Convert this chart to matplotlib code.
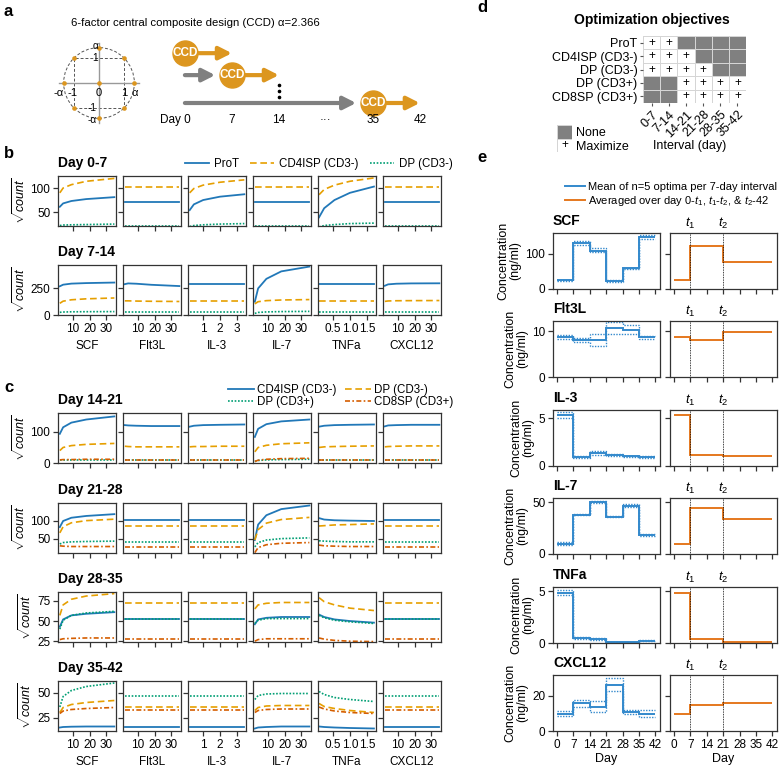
import numpy as np
import matplotlib
matplotlib.use('Agg')
import matplotlib.pyplot as plt
from matplotlib.colors import ListedColormap
from matplotlib.lines import Line2D
from matplotlib.patches import Circle, Rectangle
from matplotlib.transforms import blended_transform_factory

plt.rcParams['font.family'] = ['Liberation Sans', 'DejaVu Sans']
plt.rcParams['mathtext.fontset'] = 'custom'
plt.rcParams['mathtext.rm'] = 'Liberation Sans'
plt.rcParams['mathtext.it'] = 'Liberation Sans:italic'

FIG_W, FIG_H = 780, 770

# ---------------- panel a: design schematic ----------------
AXIAL = np.sqrt(2)   # drawn distance of the axial points
CCD_X = [-1, 1, -1, 1, 0, -AXIAL, AXIAL, 0, 0]
CCD_Y = [-1, -1, 1, 1, 0, 0, 0, -AXIAL, AXIAL]
CCD_SLOTS = [0, 1, 4]
DAY_LABELS = ['Day 0', '7', '14', '\u00b7\u00b7\u00b7', '35', '42']

# ---------------- panels b and c: response curves ----------------
FACTORS = ['SCF', 'Flt3L', 'IL-3', 'IL-7', 'TNFa', 'CXCL12']
FACTOR_X = {'SCF': [2, 4, 9, 18, 35], 'Flt3L': [2, 4, 9, 18, 35],
            'IL-3': [0.2, 0.45, 1.0, 2.0, 3.45], 'IL-7': [2, 4, 9, 18, 35],
            'TNFa': [0.1, 0.25, 0.55, 1.0, 1.7], 'CXCL12': [2, 4, 9, 18, 35]}
FACTOR_XLIM = {'SCF': (0.9, 36), 'Flt3L': (0.9, 36), 'IL-3': (0.1, 3.55),
               'IL-7': (0.9, 36), 'TNFa': (0.07, 1.76), 'CXCL12': (0.9, 36)}
FACTOR_XTICKS = {'SCF': [10, 20, 30], 'Flt3L': [10, 20, 30], 'IL-3': [1, 2, 3],
                 'IL-7': [10, 20, 30], 'TNFa': [0.5, 1.0, 1.5],
                 'CXCL12': [10, 20, 30]}

B_SERIES = ['ProT', 'CD4ISP (CD3-)', 'DP (CD3-)']
C_SERIES = ['CD4ISP (CD3-)', 'DP (CD3-)', 'DP (CD3+)', 'CD8SP (CD3+)']

# one entry per factor; a single number means a flat response
day_0_7 = {
    'ProT': [[61, 68, 73, 77, 81], 71, [54, 66, 75, 82, 87], 71,
             [39, 58, 75, 90, 103], 71],
    'CD4ISP (CD3-)': [[90, 100, 107, 114, 120], 103, [90, 99, 106, 112, 117], 103,
                      [86, 97, 106, 114, 121], 103],
    'DP (CD3-)': [[22, 23, 23.5, 24, 25], 22, [20, 22, 23.5, 25, 26], 22,
                  [19, 22, 24, 26, 27], 22],
}
day_7_14 = {
    'ProT': [[270, 285, 295, 300, 305], [290, 297, 294, 284, 272], 290,
             [125, 250, 340, 410, 455], 290, [275, 288, 294, 297, 298]],
    'CD4ISP (CD3-)': [[110, 130, 143, 152, 160], [133, 133, 131, 129, 127], 135,
                      [105, 125, 135, 141, 145], 135, [128, 132, 134, 135, 136]],
    'DP (CD3-)': [[25, 28, 30, 31, 32], 28, 28, [15, 24, 29, 32, 34], 28, 28],
}
day_14_21 = {
    'CD4ISP (CD3-)': [[94, 115, 130, 140, 150], [122, 121, 120, 119, 119],
                      [117, 120, 122, 123, 124], [84, 110, 125, 134, 140],
                      [117, 120, 122, 123, 124], [118, 121, 122, 123, 123]],
    'DP (CD3-)': [[40, 50, 56, 60, 63], [54, 53, 52, 52, 52], [52, 53, 53, 54, 54],
                  [36, 50, 57, 62, 65], [50, 52, 53, 54, 55], [52, 53, 54, 55, 55]],
    'DP (CD3+)': [9, 9, 9, [5, 8, 10, 11, 12], 9, 9],
    'CD8SP (CD3+)': [[10, 11, 11, 12, 12], 11, 11, [5, 9, 12, 14, 15], 11, 11],
}
day_21_28 = {
    'CD4ISP (CD3-)': [[83, 100, 109, 114, 119], 103, 103, [47, 90, 116, 133, 143],
                      [108, 104, 102, 101, 100], 103],
    'DP (CD3-)': [[67, 84, 95, 101, 105], 86, 86, [47, 76, 94, 104, 110],
                  [86, 87, 89, 90, 92], 86],
    'DP (CD3+)': [[36, 40, 42, 43, 44], 42, 42, [28, 40, 47, 51, 53],
                  [45, 44, 43, 42, 42], 42],
    'CD8SP (CD3+)': [[31, 30, 29, 29, 29], 29, 29, [12, 26, 34, 38, 40],
                     [33, 31, 30, 29, 29], 29],
}
day_28_35 = {
    'CD4ISP (CD3-)': [[43, 52, 57, 59, 61], 53, 53, [46, 52, 54, 55, 55],
                      [58, 55, 52, 50, 48], 53],
    'DP (CD3-)': [[57, 70, 77, 81, 84], 72, 72, [65, 70, 72, 73, 73],
                  [79, 74, 70, 66, 63], 72],
    'DP (CD3+)': [[40, 51, 57, 60, 62], 52.5, 52.5, [47, 51, 53, 53, 53],
                  [57, 54, 51, 49, 47], 52.5],
    'CD8SP (CD3+)': [[27, 28, 28.5, 29, 29], 28, 28, [25, 27, 28, 28, 28],
                     [29, 27.5, 26, 25, 24.5], 28],
}
day_35_42 = {
    'CD4ISP (CD3-)': [[15, 15.5, 15.8, 16, 16], 15.5, 15.5, [14, 15, 15.5, 16, 16],
                      [16, 15.5, 15, 14.5, 14], 15.5],
    'DP (CD3-)': [[30, 35, 38, 40, 42], 36, 36, [32, 35, 36.5, 37, 37],
                  [39, 36, 34, 32, 30], 36],
    'DP (CD3+)': [[35.5, 46, 52, 56, 59.5], 47, 47, [43, 47, 48.5, 49, 49],
                  [51, 48, 45, 43, 41], 47],
    'CD8SP (CD3+)': [[29, 31.5, 33, 34, 35], 32.5, 32.5, [30, 32, 33, 33.5, 33.5],
                     [35.5, 33.5, 31.5, 30, 29], 32.5],
}
ROW_TITLES = ['Day 0-7', 'Day 7-14', 'Day 14-21', 'Day 21-28', 'Day 28-35', 'Day 35-42']
ROW_DATA = [day_0_7, day_7_14, day_14_21, day_21_28, day_28_35, day_35_42]
ROW_YLIM = [(21, 125), (0, 470), (0, 161), (11, 150), (24, 86), (11.5, 61.5)]
ROW_YTICKS = [[50, 100], [0, 250], [0, 100], [50, 100], [25, 50, 75], [25, 50]]

# ---------------- panel d: objectives ----------------
OBJ_ROWS = ['ProT', 'CD4ISP (CD3-)', 'DP (CD3-)', 'DP (CD3+)', 'CD8SP (CD3+)']
OBJ_INTERVALS = ['0-7', '7-14', '14-21', '21-28', '28-35', '35-42']
OBJECTIVES = [[1, 1, 0, 0, 0, 0],
              [1, 1, 1, 0, 0, 0],
              [1, 1, 1, 1, 0, 0],
              [0, 0, 1, 1, 1, 1],
              [0, 0, 1, 1, 1, 1]]

# ---------------- panel e: optimal schedules ----------------
E_DAYS = [0, 7, 14, 21, 28, 35, 42]
E_AVG_EDGES = [0, 7, 21, 42]
e_mean = {'SCF': [24, 130, 108, 22, 58, 147],
          'Flt3L': [8.7, 8.0, 8.0, 10.6, 10.3, 8.7],
          'IL-3': [5.3, 0.95, 1.35, 1.1, 1.0, 0.9],
          'IL-7': [10, 38, 50, 36, 46, 18],
          'TNFa': [4.85, 0.45, 0.4, 0.08, 0.1, 0.2],
          'CXCL12': [10, 16, 14, 26.5, 11, 9.8]}
e_low = {'SCF': [22, 125, 103, 20, 56, 142],
         'Flt3L': [8.3, 7.6, 6.8, 9.3, 9.3, 8.3],
         'IL-3': [5.0, 0.88, 1.2, 1.0, 0.95, 0.8],
         'IL-7': [8.5, 37.5, 49, 35.5, 45, 17],
         'TNFa': [4.6, 0.38, 0.3, 0.05, 0.07, 0.15],
         'CXCL12': [8.5, 13.5, 11, 23, 10, 7.8]}
e_high = {'SCF': [26, 135, 117, 24, 60, 153],
          'Flt3L': [9.2, 8.5, 9.3, 12.0, 11.3, 9.0],
          'IL-3': [5.6, 1.02, 1.6, 1.3, 1.05, 1.05],
          'IL-7': [11.5, 39, 51.5, 37, 48, 19],
          'TNFa': [5.1, 0.55, 0.5, 0.1, 0.13, 0.25],
          'CXCL12': [11.5, 18, 17, 30.5, 12, 11.8]}
e_avg = {'SCF': [24, 120, 77], 'Flt3L': [8.7, 8.0, 9.8], 'IL-3': [5.3, 1.15, 1.0],
         'IL-7': [10, 44, 33.5], 'TNFa': [4.85, 0.43, 0.13], 'CXCL12': [10, 15, 15.8]}
E_YLIM = {'SCF': 158, 'Flt3L': 12.2, 'IL-3': 5.85, 'IL-7': 54, 'TNFa': 5.4, 'CXCL12': 32}
E_YTICKS = {'SCF': [0, 100], 'Flt3L': [0, 10], 'IL-3': [0, 5], 'IL-7': [0, 50],
            'TNFa': [0, 5], 'CXCL12': [0, 20]}

# colours and line styles
BLUE = '#2178b8'
GOLD = '#e69f00'
GREEN = '#009e73'
RED = '#d55e00'
E_BLUE = '#3389cc'
E_ORANGE = '#e5781e'
CCD_ORANGE = '#dc961f'
ARROW_GRAY = '#808080'
NONE_GRAY = '#808080'
SPINE = '#333333'
LINE_STYLES = [dict(color=BLUE, ls='-', lw=1.3),
               dict(color=GOLD, ls=(0, (4, 2.2)), lw=1.2),
               dict(color=GREEN, ls=(0, (1, 1)), lw=1.2),
               dict(color=RED, ls=(0, (3, 1.4, 1, 1.4)), lw=1.2)]
TICK_FS = 8.5


def px_axes(fig, x0, y0, x1, y1):
    """Add axes from a pixel box measured from the top-left corner"""
    return fig.add_axes([x0 / FIG_W, 1 - y1 / FIG_H, (x1 - x0) / FIG_W, (y1 - y0) / FIG_H])


def fig_text(fig, x, y, s, **kw):
    """Figure text at pixel position"""
    return fig.text(x / FIG_W, 1 - y / FIG_H, s, **kw)


def style_box(ax):
    for sp in ax.spines.values():
        sp.set_color(SPINE)
        sp.set_linewidth(0.9)
    ax.tick_params(direction='out', length=3.5, width=0.9, color=SPINE,
                   labelsize=TICK_FS, pad=2)


def plot_ccd_circle(fig):
    """Two-factor view of the central composite design"""
    ax = px_axes(fig, 50, 34, 148, 132)
    ax.set_xlim(-1.96, 1.96)
    ax.set_ylim(-1.96, 1.96)
    ax.axis('off')
    ax.plot([-1.6, 1.6], [0, 0], color='#999999', lw=1)
    ax.plot([0, 0], [-1.6, 1.6], color='#999999', lw=1)
    ax.add_patch(Circle((0, 0), AXIAL, fill=False, ls=(0, (3, 2)), lw=0.7, ec='#555555'))
    ax.add_patch(Rectangle((-1, -1), 2, 2, fill=False, ls=(0, (3, 2)), lw=0.7, ec='#555555'))
    ax.scatter(CCD_X, CCD_Y, s=11, color=CCD_ORANGE, zorder=3, lw=0)
    # axis labels of the design
    for lab, xv in zip(['-\u03b1', '-1', '0', '1', '\u03b1'], [-1.6, -1.04, 0, 1.0, 1.45]):
        ax.text(xv, -0.38, lab, ha='center', va='center', fontsize=8)
    for lab, yv in zip(['\u03b1', '1', '-1', '-\u03b1'], [AXIAL + 0.05, 1, -1, -AXIAL - 0.05]):
        ax.text(-0.15 if yv > 0 else -0.26, yv, lab, ha='center', va='center', fontsize=7.3)


def plot_timeline(fig):
    """Sequential CCD experiments along the culture days"""
    rows = [0, 1, 2.27]
    ax = px_axes(fig, 160, 40, 432, 130)
    ax.set_xlim(-0.53, 5.26)
    ax.set_ylim(3.5, -0.6)
    ax.axis('off')
    head = '-|>,head_length=0.75,head_width=0.38'
    for y, slot in zip(rows, CCD_SLOTS):
        if slot > 0:
            ax.annotate('', xy=(slot, y), xytext=(0, y),
                        arrowprops=dict(arrowstyle=head, color=ARROW_GRAY, lw=3,
                                        shrinkA=0, shrinkB=12, mutation_scale=10))
        ax.annotate('', xy=(slot + 1, y), xytext=(slot, y),
                    arrowprops=dict(arrowstyle=head, color=CCD_ORANGE, lw=3,
                                    shrinkA=0, shrinkB=0, mutation_scale=10))
        ax.plot(slot, y, 'o', ms=18, color=CCD_ORANGE, zorder=3)
        ax.text(slot, y, 'CCD', color='white', fontweight='bold', ha='center',
                va='center', fontsize=8.5, zorder=4)
    ax.plot([2, 2, 2], [1.45, 1.73, 2.0], 'o', ms=1.6, color='black')
    for slot, lab in enumerate(DAY_LABELS):
        if slot == 0:
            ax.text(slot + 0.12, 3.05, lab, ha='right', va='center', fontsize=8.5)
        else:
            ax.text(slot, 3.05, lab, ha='center', va='center', fontsize=8.5)


def plot_response_row(fig, r, series):
    """One interval of response curves, one small axes per factor"""
    top = [176, 265, 413, 503, 592, 681][r]
    last = r in (1, 5)
    curves = ROW_DATA[r]
    handles = []
    for i, factor in enumerate(FACTORS):
        ax = px_axes(fig, 58 + 65 * i, top, 116 + 65 * i, top + 50)
        xs = FACTOR_X[factor]
        for k, name in enumerate(series):
            vals = curves[name][i]
            if np.isscalar(vals):
                vals = [vals] * len(xs)
            line, = ax.plot(xs, vals, **LINE_STYLES[k])
            if i == 0:
                handles.append(line)
        ax.set_xlim(*FACTOR_XLIM[factor])
        ax.set_ylim(*ROW_YLIM[r])
        ax.set_xticks(FACTOR_XTICKS[factor])
        ax.set_yticks(ROW_YTICKS[r])
        style_box(ax)
        if i == 0:
            ax.set_ylabel(r'$\sqrt{count}$', fontsize=9, labelpad=2)
        else:
            ax.set_yticklabels([])
        if last:
            if factor == 'TNFa':
                ax.set_xticklabels(['0.5', '1.0', '1.5'])
            ax.set_xlabel(factor, fontsize=8.5, labelpad=4)
        else:
            ax.set_xticklabels([])
    fig_text(fig, 58, top - 13, ROW_TITLES[r], fontsize=10, fontweight='bold',
             va='center', ha='left')
    return handles


def plot_objectives(fig):
    """Heatmap of the optimisation objective per interval"""
    ax = px_axes(fig, 643, 36, 746, 103)
    obj = np.array(OBJECTIVES)
    cmap = ListedColormap([NONE_GRAY, 'white'])
    # solid gray background, white maximise cells with light borders on top
    ax.pcolormesh(np.zeros_like(obj), cmap=cmap, vmin=0, vmax=1)
    ax.pcolormesh(np.ma.masked_equal(obj, 0), cmap=cmap, vmin=0, vmax=1,
                  edgecolors='#d5d5d5', linewidth=0.6)
    ax.set_xlim(0, len(OBJ_INTERVALS))
    ax.set_ylim(len(OBJ_ROWS), 0)
    for r, row in enumerate(OBJECTIVES):
        for c, v in enumerate(row):
            if v:
                ax.text(c + 0.5, r + 0.5, '+', ha='center', va='center', fontsize=8.5)
    ax.set_yticks(np.arange(len(OBJ_ROWS)) + 0.5, OBJ_ROWS)
    ax.set_xticks(np.arange(len(OBJ_INTERVALS)) + 0.5, OBJ_INTERVALS)
    ax.tick_params(length=2.5, width=0.8, labelsize=9, pad=1.5, color='#555555')
    plt.setp(ax.get_xticklabels(), rotation=45, ha='right', rotation_mode='anchor')
    for sp in ax.spines.values():
        sp.set_visible(False)
    fig_text(fig, 652, 20, 'Optimization objectives', fontsize=10, fontweight='bold',
             ha='center', va='center')
    fig_text(fig, 690, 146, 'Interval (day)', fontsize=9, ha='center', va='center')

    # legend drawn as a two-cell heatmap
    lax = px_axes(fig, 557, 125, 572, 152)
    lax.pcolormesh(np.array([[0], [1]]), cmap=cmap, vmin=0, vmax=1,
                   edgecolors='#d5d5d5', linewidth=0.6)
    lax.set_ylim(2, 0)
    lax.text(0.5, 1.5, '+', ha='center', va='center', fontsize=8.5)
    lax.set_xticks([])
    lax.yaxis.tick_right()
    lax.set_yticks([0.5, 1.5], ['None', 'Maximize'])
    lax.tick_params(length=0, labelsize=9, pad=3)
    for sp in lax.spines.values():
        sp.set_visible(False)


def plot_schedules(fig):
    """Optimal concentration schedules per cytokine"""
    tops = [233, 321, 410, 498, 587, 675]
    for r, factor in enumerate(FACTORS):
        top = tops[r]
        axl = px_axes(fig, 553, top, 660, top + 56)
        axr = px_axes(fig, 670, top, 777, top + 56)
        axl.stairs(e_low[factor], E_DAYS, baseline=None, color=E_BLUE, ls=(0, (1, 1)), lw=1)
        axl.stairs(e_high[factor], E_DAYS, baseline=None, color=E_BLUE, ls=(0, (1, 1)), lw=1)
        axl.stairs(e_mean[factor], E_DAYS, baseline=None, color=E_BLUE, lw=1.4)
        axr.stairs(e_avg[factor], E_AVG_EDGES, baseline=None, color=E_ORANGE, lw=1.4)
        trans = blended_transform_factory(axr.transData, axr.transAxes)
        for k, t in enumerate(E_AVG_EDGES[1:-1]):
            axr.axvline(t, color='black', ls=(0, (1, 1)), lw=0.6)
            axr.text(t, 1.04, f'$t_{k + 1}$', transform=trans, ha='center',
                     va='bottom', fontsize=9.5)
        for ax in (axl, axr):
            ax.set_xlim(-1.7, 44)
            ax.set_ylim(0, E_YLIM[factor])
            ax.set_xticks(E_DAYS)
            ax.set_yticks(E_YTICKS[factor])
            style_box(ax)
            if r == len(FACTORS) - 1:
                ax.set_xlabel('Day', fontsize=9, labelpad=2)
            else:
                ax.set_xticklabels([])
        axr.set_yticklabels([])
        axl.set_ylabel('Concentration\n(ng/ml)', fontsize=9, labelpad=3, linespacing=1.0)
        fig_text(fig, 553, top - 12, factor, fontsize=10, fontweight='bold',
                 ha='left', va='center')

    handles = [Line2D([], [], color=E_BLUE, lw=1.4), Line2D([], [], color=E_ORANGE, lw=1.4)]
    labels = ['Mean of n=5 optima per 7-day interval',
              'Averaged over day 0-$t_1$, $t_1$-$t_2$, & $t_2$-42']
    fig.legend(handles, labels, loc='center left', frameon=False, fontsize=8,
               bbox_to_anchor=(559 / FIG_W, 1 - 195 / FIG_H), handlelength=1.8,
               handletextpad=0.3, labelspacing=0.2, borderpad=0)


def main():
    fig = plt.figure(figsize=(FIG_W / 100, FIG_H / 100), dpi=100)

    # panel letters
    for lab, x, y in [('a', 4, 11), ('b', 4, 153), ('c', 4, 387), ('d', 477, 8), ('e', 477, 158)]:
        fig_text(fig, x, y, lab, fontsize=12, fontweight='bold', va='center', ha='left')

    fig_text(fig, 195, 23, '6-factor central composite design (CCD) \u03b1=2.366',
             fontsize=8.2, ha='center', va='center')
    plot_ccd_circle(fig)
    plot_timeline(fig)

    b_handles = []
    for r in range(2):
        h = plot_response_row(fig, r, B_SERIES)
        b_handles = b_handles or h
    c_handles = []
    for r in range(2, 6):
        h = plot_response_row(fig, r, C_SERIES)
        c_handles = c_handles or h

    fig.legend(b_handles, B_SERIES, loc='center left', ncol=3, frameon=False,
               fontsize=8.3, bbox_to_anchor=(179 / FIG_W, 1 - 164 / FIG_H),
               handlelength=2.1, handletextpad=0.4, columnspacing=1.0, borderpad=0)
    order = [0, 2, 1, 3]
    fig.legend([c_handles[k] for k in order], [C_SERIES[k] for k in order],
               loc='center left', ncol=2, frameon=False, fontsize=8.3,
               bbox_to_anchor=(222 / FIG_W, 1 - 396 / FIG_H), handlelength=2.3,
               handletextpad=0.25, columnspacing=0.7, labelspacing=0.05, borderpad=0)

    plot_objectives(fig)
    plot_schedules(fig)

    fig.savefig('out.png', dpi=100)
    plt.close(fig)


if __name__ == '__main__':
    main()
